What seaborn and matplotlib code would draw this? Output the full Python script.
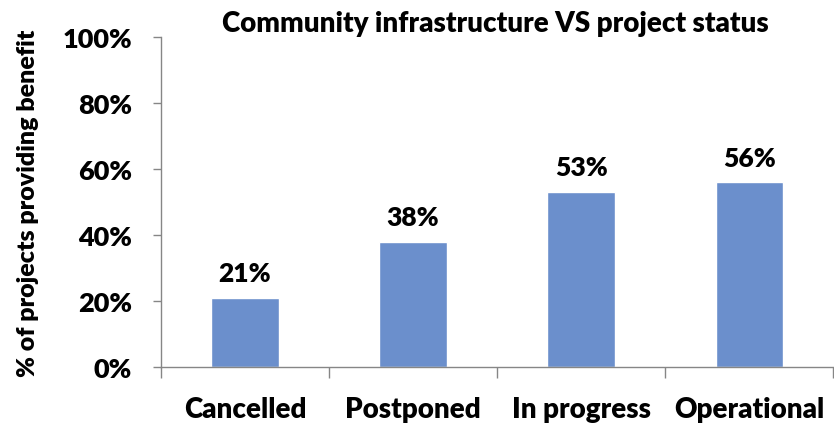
import matplotlib
matplotlib.use("Agg")
import matplotlib.pyplot as plt
import seaborn as sns
import pandas as pd

categories = ["Cancelled", "Postponed", "In progress", "Operational"]
values = [21, 38, 53, 56]
value_labels = ["21%", "38%", "53%", "56%"]
y_ticks = [0, 20, 40, 60, 80, 100]
y_tick_labels = ["0%", "20%", "40%", "60%", "80%", "100%"]
title = "Community infrastructure VS project status"
y_label = "% of projects providing benefit"

W = "heavy"

sns.set_theme(style="white")
plt.rcParams["font.family"] = ["Lato", "DejaVu Sans"]
plt.rcParams["font.weight"] = W
plt.rcParams["text.color"] = "black"
plt.rcParams["xtick.color"] = "black"
plt.rcParams["ytick.color"] = "black"

df = pd.DataFrame({"status": categories, "pct": values})

fig = plt.figure(figsize=(8.34, 4.27), dpi=100)
ax_w = 0.806
ax = fig.add_axes([0.193, 0.138, ax_w, 0.773])
sns.barplot(data=df, x="status", y="pct", color="#6B8FCC", saturation=1,
            width=0.4, ax=ax)

ax.set_ylim(0, 100)
ax.set_xlim(-0.5, 3.5)
ax.set_yticks(y_ticks)
ax.set_yticklabels(y_tick_labels)
ax.set_xticks(range(len(categories)))
ax.set_xticklabels(categories)
ax.tick_params(axis="x", which="major", labelsize=20, length=0, pad=21,
               labelcolor="black")
ax.tick_params(axis="y", which="major", labelsize=19.5, length=6, color="#868686",
               width=1, left=True, pad=15, labelcolor="black")
# category boundary ticks (Excel style)
ax.set_xticks([-0.5, 0.5, 1.5, 2.5, 3.5], minor=True)
ax.tick_params(axis="x", which="minor", bottom=True, length=8, color="#868686", width=1)
for t in ax.get_xticklabels() + ax.get_yticklabels():
    t.set_fontweight(W)

for s in ["top", "right"]:
    ax.spines[s].set_visible(False)
for s in ["left", "bottom"]:
    ax.spines[s].set_color("#868686")
    ax.spines[s].set_linewidth(1)

for i, (v, lab) in enumerate(zip(values, value_labels)):
    ax.annotate(lab, xy=(i, v), xytext=(0, 12), textcoords="offset points",
                ha="center", va="baseline", fontsize=19, fontweight=W,
                color="black")

ax.set_xlabel("")
ax.set_ylabel(y_label, fontsize=18, fontweight=W, color="black", va="center")
ax.yaxis.set_label_coords(-(161 - 28.5) / (ax_w * 834), 0.5)
fig.text(0.594, 0.944, title, ha="center", va="center", fontsize=20,
         fontweight=W, color="black")

fig.savefig("out.png", dpi=100)
